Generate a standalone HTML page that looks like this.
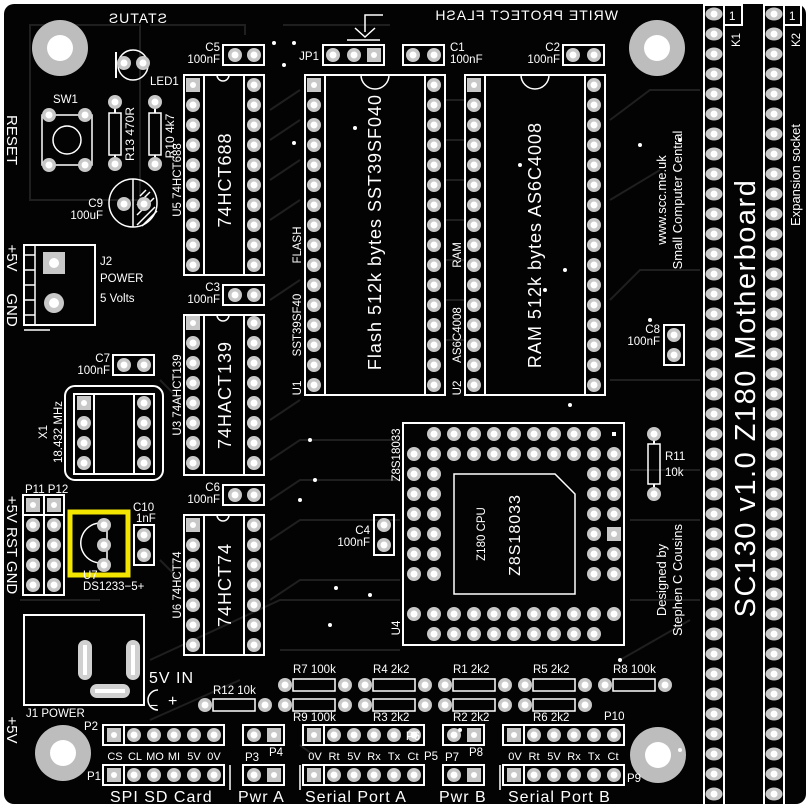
<!DOCTYPE html>
<html><head><meta charset="utf-8"><style>
html,body{margin:0;padding:0;background:#fff;}
svg{display:block;font-family:"Liberation Sans",sans-serif;}
text{fill:#fff;}
</style></head><body>
<svg id="s" width="809" height="809" viewBox="0 0 809 809" xmlns="http://www.w3.org/2000/svg">
<rect x="4" y="4" width="802" height="800" rx="10" fill="#030303"/>
<g stroke="#1f1f1f" stroke-width="2" fill="none">
<path d="M30 25 H140 V200 H30 Z"/><path d="M150 25 H245 V35"/><path d="M283 25 H390"/>
<path d="M270 110 L300 90 M270 140 L300 120 M270 180 L300 160 M270 220 L300 200 M270 300 L300 280 M270 420 L300 400"/>
<path d="M445 100 H465 M445 140 H465 M445 180 H465 M445 220 H465 M445 260 H465 M445 300 H465 M445 340 H465"/>
<path d="M610 120 L650 90 H700 M610 200 L660 170 M610 300 L640 270 H700 M610 380 H700"/>
<path d="M270 460 L300 440 H400 M270 500 L300 480 H400 M270 540 L300 520 H400 M270 600 L300 580 H400"/>
<path d="M160 560 L180 580 M150 660 L280 600 H400 M280 650 H400 M630 470 H700 M630 520 H700 M630 600 H700"/>
<path d="M160 380 L180 400 M20 600 H100 M150 720 L240 680 M620 660 L690 620 M300 745 L320 760"/>
</g>
<g fill="#fff">
<circle cx="60" cy="48" r="28" fill="#bdbdbd"/><circle cx="60" cy="48" r="13" fill="#fff"/>
<circle cx="657" cy="48" r="28" fill="#bdbdbd"/><circle cx="657" cy="48" r="13" fill="#fff"/>
<circle cx="63" cy="753" r="28" fill="#bdbdbd"/><circle cx="63" cy="753" r="13" fill="#fff"/>
<circle cx="658" cy="755" r="28" fill="#bdbdbd"/><circle cx="658" cy="755" r="13" fill="#fff"/>
</g>
<g fill="none" stroke="#fff" stroke-width="2">
<rect x="704" y="5" width="20" height="800"/><rect x="724" y="5" width="18" height="20"/>
<rect x="764" y="5" width="20" height="800"/><rect x="784" y="5" width="17" height="20"/>
<rect x="305" y="75" width="140" height="320"/><line x1="325" y1="75" x2="325" y2="395"/><line x1="425" y1="75" x2="425" y2="395"/>
<rect x="465" y="75" width="140" height="320"/><line x1="485" y1="75" x2="485" y2="395"/><line x1="585" y1="75" x2="585" y2="395"/>
<path d="M361 75 A14 14 0 0 0 389 75" stroke-width="1.5"/><path d="M521 75 A14 14 0 0 0 549 75" stroke-width="1.5"/>
<rect x="184" y="75" width="80" height="200"/><line x1="204" y1="75" x2="204" y2="275"/><line x1="244" y1="75" x2="244" y2="275"/>
<rect x="184" y="315" width="80" height="160"/><line x1="204" y1="315" x2="204" y2="475"/><line x1="244" y1="315" x2="244" y2="475"/>
<rect x="184" y="515" width="80" height="140"/><line x1="204" y1="515" x2="204" y2="655"/><line x1="244" y1="515" x2="244" y2="655"/>
<path d="M217 75 A6 6 0 0 0 229 75" stroke-width="1.5"/><path d="M217 315 A6 6 0 0 0 229 315" stroke-width="1.5"/><path d="M217 515 A6 6 0 0 0 229 515" stroke-width="1.5"/>
<rect x="223" y="45" width="41" height="20"/><rect x="323" y="45" width="61" height="20"/>
<rect x="403" y="45" width="41" height="20"/><rect x="563" y="45" width="41" height="20"/>
<rect x="223" y="285" width="41" height="20"/><rect x="113" y="355" width="41" height="20"/>
<rect x="223" y="485" width="41" height="20"/><rect x="374" y="515" width="20" height="40"/>
<rect x="664" y="325" width="20" height="40"/><rect x="134" y="525" width="20" height="40"/>
<rect x="65" y="386" width="98" height="94" rx="10"/><rect x="74" y="394" width="80" height="80"/>
<line x1="94" y1="394" x2="94" y2="474"/><line x1="134" y1="394" x2="134" y2="474"/>
<rect x="23" y="495" width="41" height="100"/><line x1="44" y1="495" x2="44" y2="595"/><line x1="23" y1="515" x2="64" y2="515"/>
<path d="M107 524 A20 20 0 1 0 107 562 Z" stroke-width="1.5"/>
<rect x="24" y="615" width="120" height="90"/>
<path d="M158 690 A10 10 0 0 0 158 710" stroke-width="1.5"/>
<rect x="24" y="245" width="71" height="80"/><path d="M24 255 H35 M24 270 H35 M24 285 H35 M24 300 H35 M24 315 H35 M35 245 V325" stroke-width="1.5"/>
<path d="M24 330 H50" stroke-width="1.5"/>
<rect x="42" y="115" width="50" height="50" stroke-width="1.5"/><circle cx="67" cy="140" r="14" stroke-width="1.5"/>
<circle cx="133" cy="65" r="15" stroke-width="1.5"/><line x1="116" y1="52" x2="116" y2="78"/>
<rect x="109" y="113" width="12" height="42" stroke-width="1.5"/><rect x="149" y="113" width="12" height="42" stroke-width="1.5"/>
<line x1="115" y1="108" x2="115" y2="113"/><line x1="115" y1="155" x2="115" y2="160"/><line x1="155" y1="108" x2="155" y2="113"/><line x1="155" y1="155" x2="155" y2="160"/>
<circle cx="133" cy="203" r="24" stroke-width="1.5"/><line x1="133" y1="179" x2="133" y2="227" stroke-width="1.5"/>
<path d="M137 225 L155 207 M137 215 L154 198 M137 205 L150 192 M140 196 L146 190 M142 226 L157 211" stroke-width="1.5"/>
<rect x="403" y="423" width="221" height="222"/><path d="M454 474 H555 L575 494 V594 H454 Z" stroke-width="1.5"/>
<rect x="648" y="444" width="12" height="40" stroke-width="1.5"/><line x1="654" y1="440" x2="654" y2="444"/><line x1="654" y1="484" x2="654" y2="488"/>
<rect x="213" y="699" width="42" height="12" stroke-width="1.5"/>
<rect x="293" y="679" width="42" height="12" stroke-width="1.5"/><rect x="293" y="699" width="42" height="12" stroke-width="1.5"/>
<rect x="373" y="679" width="42" height="12" stroke-width="1.5"/><rect x="373" y="699" width="42" height="12" stroke-width="1.5"/>
<rect x="453" y="679" width="42" height="12" stroke-width="1.5"/><rect x="453" y="699" width="42" height="12" stroke-width="1.5"/>
<rect x="533" y="679" width="42" height="12" stroke-width="1.5"/><rect x="533" y="699" width="42" height="12" stroke-width="1.5"/>
<rect x="613" y="679" width="42" height="12" stroke-width="1.5"/>
<rect x="103" y="725" width="121" height="20"/><line x1="124" y1="725" x2="124" y2="745"/>
<rect x="103" y="765" width="121" height="20"/><line x1="124" y1="765" x2="124" y2="785"/>
<rect x="243" y="725" width="41" height="20"/><rect x="243" y="765" width="41" height="20"/>
<rect x="303" y="725" width="121" height="20"/><line x1="324" y1="725" x2="324" y2="745"/>
<rect x="303" y="765" width="121" height="20"/><line x1="324" y1="765" x2="324" y2="785"/>
<rect x="443" y="725" width="41" height="20"/><rect x="443" y="765" width="41" height="20"/>
<rect x="503" y="725" width="121" height="20"/><line x1="524" y1="725" x2="524" y2="745"/>
<rect x="503" y="765" width="121" height="20"/><line x1="524" y1="765" x2="524" y2="785"/>
<path d="M230 765 V790 M300 765 V790 M500 765 V790 M383 15 H365 V32 M355 28 L365 37 L375 28 M347 40 H380" stroke-width="1.5"/>
</g>
<rect x="70" y="512" width="58" height="63" fill="none" stroke="#f2e600" stroke-width="5"/>
<g fill="#d0d0d0">
<rect x="78" y="640" width="14" height="40" rx="7"/><rect x="126" y="640" width="14" height="40" rx="7"/><rect x="90" y="684" width="40" height="14" rx="7"/>
</g>
<g fill="#fff"><rect x="83" y="645" width="4" height="30"/><rect x="131" y="645" width="4" height="30"/><rect x="95" y="689" width="30" height="4"/></g>
<g id="pads"></g>
<g font-size="11.5">
<text x="220" y="51" text-anchor="end">C5</text><text x="220" y="63" text-anchor="end">100nF</text>
<text x="319" y="60" text-anchor="end">JP1</text>
<text x="450" y="51">C1</text><text x="450" y="63">100nF</text>
<text x="560" y="51" text-anchor="end">C2</text><text x="560" y="63" text-anchor="end">100nF</text>
<text x="220" y="291" text-anchor="end">C3</text><text x="220" y="303" text-anchor="end">100nF</text>
<text x="110" y="362" text-anchor="end">C7</text><text x="110" y="374" text-anchor="end">100nF</text>
<text x="220" y="491" text-anchor="end">C6</text><text x="220" y="503" text-anchor="end">100nF</text>
<text x="370" y="534" text-anchor="end">C4</text><text x="370" y="546" text-anchor="end">100nF</text>
<text x="660" y="333" text-anchor="end">C8</text><text x="660" y="345" text-anchor="end">100nF</text>
<text x="133" y="511">C10</text><text x="136" y="522">1nF</text>
<text x="103" y="207" text-anchor="end">C9</text><text x="103" y="219" text-anchor="end">100uF</text>
<text x="150" y="85">LED1</text><text x="53" y="103">SW1</text>
<text x="100" y="265">J2</text><text x="100" y="282">POWER</text><text x="100" y="302">5 Volts</text>
<text x="25" y="493">P11 P12</text>
<text x="83" y="590">DS1233−5+</text><text x="83" y="579">U7</text>
<text x="26" y="717">J1  POWER</text>
<text x="84" y="730">P2</text><text x="87" y="780">P1</text>
<text x="245" y="761">P3</text><text x="269" y="756">P4</text>
<text x="420" y="740" text-anchor="end">P6</text><text x="424" y="760">P5</text>
<text x="445" y="761">P7</text><text x="469" y="756">P8</text>
<text x="604" y="720">P10</text><text x="627" y="782">P9</text>
</g>
<g font-size="11" text-anchor="middle">
<text x="115" y="760">CS</text><text x="135" y="760">CL</text><text x="155" y="760">MO</text><text x="174" y="760">MI</text><text x="194" y="760">5V</text><text x="214" y="760">0V</text>
<text x="315" y="760">0V</text><text x="334" y="760">Rt</text><text x="354" y="760">5V</text><text x="374" y="760">Rx</text><text x="394" y="760">Tx</text><text x="413" y="760">Ct</text>
<text x="515" y="760">0V</text><text x="534" y="760">Rt</text><text x="554" y="760">5V</text><text x="574" y="760">Rx</text><text x="594" y="760">Tx</text><text x="613" y="760">Ct</text>
</g>
<g font-size="11.5">
<text x="213" y="694">R12  10k</text>
<text x="293" y="673">R7 100k</text><text x="373" y="673">R4 2k2</text><text x="453" y="673">R1  2k2</text><text x="533" y="673">R5 2k2</text><text x="613" y="673">R8 100k</text>
<text x="293" y="721">R9  100k</text><text x="373" y="721">R3  2k2</text><text x="453" y="721">R2  2k2</text><text x="533" y="721">R6  2k2</text>
<text x="665" y="460">R11</text><text x="665" y="476">10k</text>
<text x="729" y="20">1</text><text x="789" y="20">1</text>
</g>
<g font-size="16" letter-spacing="1">
<text x="149" y="683">5V  IN</text><text x="150" y="710" font-size="14">−</text><text x="168" y="706">+</text>
<text x="110" y="802">SPI  SD  Card</text><text x="238" y="802">Pwr  A</text><text x="305" y="802">Serial  Port  A</text>
<text x="439" y="802">Pwr  B</text><text x="508" y="802">Serial  Port  B</text>
</g>
<g font-size="14" letter-spacing="1">
<text transform="translate(167,23) scale(-1,1)">STATUS</text>
<text transform="translate(618,20) scale(-1,1)">WRITE PROTECT FLASH</text>
</g>
<g font-size="18" letter-spacing="1">
<text transform="translate(231,180) rotate(-90)" text-anchor="middle">74HCT688</text>
<text transform="translate(231,395) rotate(-90)" text-anchor="middle">74HACT139</text>
<text transform="translate(231,585) rotate(-90)" text-anchor="middle">74HCT74</text>
<text transform="translate(381,232) rotate(-90)" text-anchor="middle">Flash 512k bytes SST39SF040</text>
<text transform="translate(541,245) rotate(-90)" text-anchor="middle">RAM 512k bytes AS6C4008</text>
<text transform="translate(520,535) rotate(-90)" text-anchor="middle" font-size="16">Z8S18033</text>
</g>
<g font-size="11.5">
<text transform="translate(181,180) rotate(-90)" text-anchor="middle">U5  74HCT688</text>
<text transform="translate(181,395) rotate(-90)" text-anchor="middle">U3  74AHCT139</text>
<text transform="translate(181,585) rotate(-90)" text-anchor="middle">U6  74HCT74</text>
<text transform="translate(301,245) rotate(-90)" text-anchor="middle">FLASH</text>
<text transform="translate(301,325) rotate(-90)" text-anchor="middle">SST39SF40</text>
<text transform="translate(301,388) rotate(-90)" text-anchor="middle">U1</text>
<text transform="translate(461,255) rotate(-90)" text-anchor="middle">RAM</text>
<text transform="translate(461,335) rotate(-90)" text-anchor="middle">AS6C4008</text>
<text transform="translate(461,388) rotate(-90)" text-anchor="middle">U2</text>
<text transform="translate(485,534) rotate(-90)" text-anchor="middle">Z180  CPU</text>
<text transform="translate(400,455) rotate(-90)" text-anchor="middle">Z8S18033</text>
<text transform="translate(400,628) rotate(-90)" text-anchor="middle">U4</text>
<text transform="translate(47,432) rotate(-90)" text-anchor="middle">X1</text>
<text transform="translate(62,432) rotate(-90)" text-anchor="middle">18.432 MHz</text>
<text transform="translate(666,200) rotate(-90)" text-anchor="middle" font-size="13">www.scc.me.uk</text>
<text transform="translate(682,200) rotate(-90)" text-anchor="middle" font-size="13">Small Computer Central</text>
<text transform="translate(666,580) rotate(-90)" text-anchor="middle" font-size="13">Designed by</text>
<text transform="translate(682,580) rotate(-90)" text-anchor="middle" font-size="13">Stephen C Cousins</text>
<text transform="translate(740,40) rotate(-90)" text-anchor="middle">K1</text>
<text transform="translate(800,40) rotate(-90)" text-anchor="middle">K2</text>
<text transform="translate(800,175) rotate(-90)" text-anchor="middle" font-size="13">Expansion socket</text>
<text transform="translate(134,134) rotate(-90)" text-anchor="middle" font-size="12">R13  470R</text>
<text transform="translate(174,136) rotate(-90)" text-anchor="middle" font-size="12">R10  4k7</text>
</g>
<g font-size="15">
<text transform="translate(7,140) rotate(90)" text-anchor="middle">RESET</text>
<text transform="translate(7,258) rotate(90)" text-anchor="middle">+5V</text>
<text transform="translate(7,310) rotate(90)" text-anchor="middle">GND</text>
<text transform="translate(7,545) rotate(90)" text-anchor="middle">+5V  RST  GND</text>
<text transform="translate(7,730) rotate(90)" text-anchor="middle">+5V</text>
</g>
<text transform="translate(755,398) rotate(-90)" text-anchor="middle" font-size="29" letter-spacing="1.5">SC130 v1.0 Z180 Motherboard</text>
</svg>
<script>
(function(){
var g=document.getElementById('pads'),h='';
function P(x,y,sq){ if(sq) h+='<rect x="'+(x-7)+'" y="'+(y-7)+'" width="14" height="14" fill="#c8c8c8"/><circle cx="'+x+'" cy="'+y+'" r="3" fill="#fff"/>';
 else h+='<circle cx="'+x+'" cy="'+y+'" r="7" fill="#c8c8c8"/><circle cx="'+x+'" cy="'+y+'" r="3.5" fill="#fff"/>';}
function E(x,y){h+='<ellipse cx="'+x+'" cy="'+y+'" rx="8.5" ry="6.5" fill="#c8c8c8"/><circle cx="'+x+'" cy="'+y+'" r="3.5" fill="#fff"/>';}
var i,j;
for(i=0;i<40;i++){E(714,14+i*20);E(774,14+i*20);}
function dip(xl,xr,y0,n){for(i=0;i<n;i++){P(xl,y0+i*20,i==0);P(xr,y0+i*20);}}
dip(314,434,85,16);dip(474,594,85,16);dip(193,254,85,10);dip(193,254,323,8);dip(193,254,525,7);
dip(84,144,403,4);
P(235,55);P(254,55);P(333,55);P(354,55);P(374,55,1);P(413,55);P(434,55);P(573,55);P(594,55);
P(235,295);P(254,295);P(124,365);P(144,365);P(235,495);P(254,495);P(384,525);P(384,545);
P(674,335);P(674,355);P(144,535);P(144,555);
for(i=0;i<5;i++){P(33,505+i*20,i==0);P(54,505+i*20,i==0);}
P(104,525);P(104,545);P(104,565);
P(124,63);P(143,63);P(49,115);P(85,115);P(49,165);P(85,165);
P(115,102);P(115,164);P(155,102);P(155,164);P(124,204);P(144,204);
h+='<rect x="43" y="252" width="22" height="22" fill="#c8c8c8"/><circle cx="54" cy="263" r="5" fill="#fff"/>';
h+='<circle cx="54" cy="303" r="10" fill="#c8c8c8"/><circle cx="54" cy="303" r="5" fill="#fff"/>';
P(654,434);P(654,494);
for(i=0;i<9;i++)P(434+i*20,434);
for(i=0;i<11;i++){P(414+i*20,454);P(414+i*20,614);}
for(i=0;i<9;i++)P(434+i*20,634);
for(j=0;j<6;j++){var y=474+j*20;P(414,y);P(434,y);P(594,y);P(614,y,y==534);}
h+='<rect x="612" y="432" width="4" height="4" fill="#fff"/>';
P(205,705);P(265,705);
var rx=[285,365,445,525];for(i=0;i<4;i++){P(rx[i],685);P(rx[i]+60,685);P(rx[i],705);P(rx[i]+60,705);}
P(605,685);P(665,685);
function hdr(x0,y,n,firstSq){for(i=0;i<n;i++)P(x0+i*20,y,firstSq&&i==0);}
hdr(114,735,6,1);hdr(114,775,6,1);hdr(314,735,6,1);hdr(314,775,6,1);hdr(514,735,6,1);hdr(514,775,6,1);
P(254,735);P(274,735,1);P(254,775);P(274,775,1);P(454,735);P(474,735,1);P(454,775);P(474,775,1);
var v=[[274,43],[294,43],[284,65],[355,128],[294,143],[520,165],[545,290],[565,270],[640,145],[680,140],[570,405],[300,500],[310,440],[315,480],[336,588],[330,625],[370,595],[460,730],[650,320],[680,750],[620,660]];
for(i=0;i<v.length;i++)h+='<circle cx="'+v[i][0]+'" cy="'+v[i][1]+'" r="2" fill="#fff"/>';
g.innerHTML=h;
})();
</script>
</body></html>
